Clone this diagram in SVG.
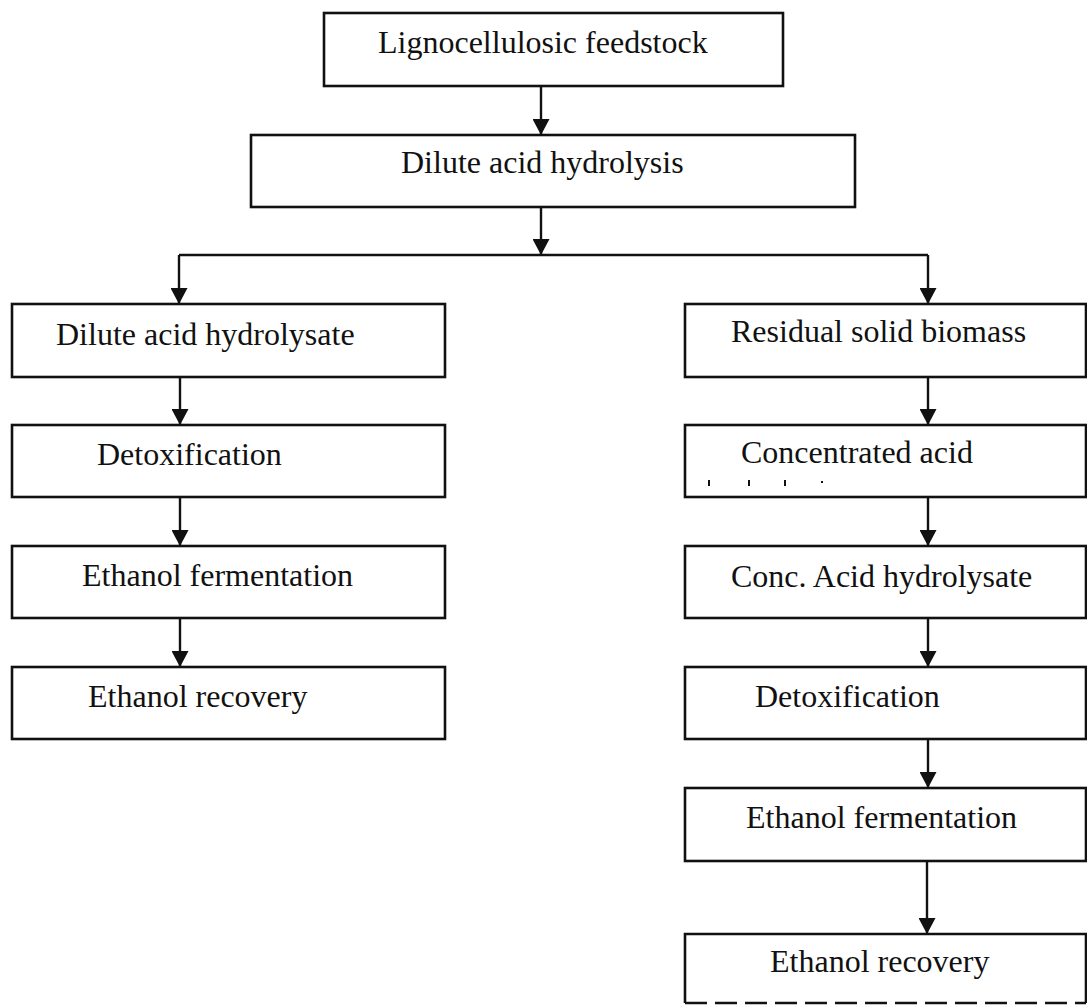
<svg xmlns="http://www.w3.org/2000/svg" width="1087" height="1005" viewBox="0 0 1087 1005">
  <style>
    .box { fill: #ffffff; stroke: #111111; stroke-width: 2.6; }
    .lbl { font-family: "Liberation Serif", "Times New Roman", serif; font-size: 32px; fill: #111111; }
    .conn { fill: none; stroke: #111111; stroke-width: 2.4; }
    .arr { marker-end: url(#ah); }
  </style>
  <defs>
    <marker id="ah" viewBox="0 0 16 17" refX="16" refY="8.5" markerWidth="16" markerHeight="17" markerUnits="userSpaceOnUse" orient="auto">
      <path d="M0,0 L16,8.5 L0,17 z" fill="#111111"/>
    </marker>
  </defs>
  <rect width="1087" height="1005" fill="#ffffff"/>

  <g id="connectors">
    <path class="conn arr" d="M541,87 V135"/>
    <path class="conn arr" d="M541,207 V255"/>
    <path class="conn" d="M179,255 H928"/>
    <path class="conn arr" d="M179,255 V304"/>
    <path class="conn arr" d="M928,255 V304"/>
    <path class="conn arr" d="M180,377 V425"/>
    <path class="conn arr" d="M180,497 V546"/>
    <path class="conn arr" d="M180,618 V667"/>
    <path class="conn arr" d="M928,377 V425"/>
    <path class="conn arr" d="M928,497 V546"/>
    <path class="conn arr" d="M928,618 V667"/>
    <path class="conn arr" d="M928,739 V788"/>
    <path class="conn arr" d="M927,861 V934"/>
  </g>

  <g id="feedstock">
    <rect class="box" x="324" y="13" width="459" height="73"/>
    <text class="lbl" x="378" y="53">Lignocellulosic feedstock</text>
  </g>
  <g id="dilute-hydrolysis">
    <rect class="box" x="251" y="135" width="604" height="72"/>
    <text class="lbl" x="401" y="173">Dilute acid hydrolysis</text>
  </g>

  <g id="dilute-hydrolysate">
    <rect class="box" x="12" y="304" width="433" height="73"/>
    <text class="lbl" x="56" y="345">Dilute acid hydrolysate</text>
  </g>
  <g id="left-detox">
    <rect class="box" x="12" y="425" width="433" height="72"/>
    <text class="lbl" x="97" y="465">Detoxification</text>
  </g>
  <g id="left-fermentation">
    <rect class="box" x="12" y="546" width="433" height="72"/>
    <text class="lbl" x="82" y="586">Ethanol fermentation</text>
  </g>
  <g id="left-recovery">
    <rect class="box" x="12" y="667" width="433" height="72"/>
    <text class="lbl" x="88" y="707">Ethanol recovery</text>
  </g>

  <g id="residual-biomass">
    <rect class="box" x="685" y="304" width="401" height="73"/>
    <text class="lbl" x="731" y="342">Residual solid biomass</text>
  </g>
  <g id="concentrated-acid">
    <rect class="box" x="685" y="425" width="401" height="72"/>
    <text class="lbl" x="741" y="463">Concentrated acid</text>
    <g fill="#111111">
      <rect x="708" y="480" width="2" height="6"/>
      <rect x="748" y="480" width="2" height="6"/>
      <rect x="784" y="480" width="2" height="6"/>
      <rect x="821" y="481" width="2" height="2"/>
    </g>
  </g>
  <g id="conc-hydrolysate">
    <rect class="box" x="685" y="546" width="401" height="72"/>
    <text class="lbl" x="731" y="587">Conc. Acid hydrolysate</text>
  </g>
  <g id="right-detox">
    <rect class="box" x="685" y="667" width="401" height="72"/>
    <text class="lbl" x="755" y="707">Detoxification</text>
  </g>
  <g id="right-fermentation">
    <rect class="box" x="685" y="788" width="401" height="73"/>
    <text class="lbl" x="746" y="828">Ethanol fermentation</text>
  </g>
  <g id="right-recovery">
    <path d="M685,1003 V934 H1086 V1003" fill="#ffffff" stroke="#111111" stroke-width="2.6"/>
    <path d="M685,1003 H1086" fill="none" stroke="#111111" stroke-width="2.6" stroke-dasharray="22 8"/>
    <text class="lbl" x="770" y="972">Ethanol recovery</text>
  </g>
</svg>
